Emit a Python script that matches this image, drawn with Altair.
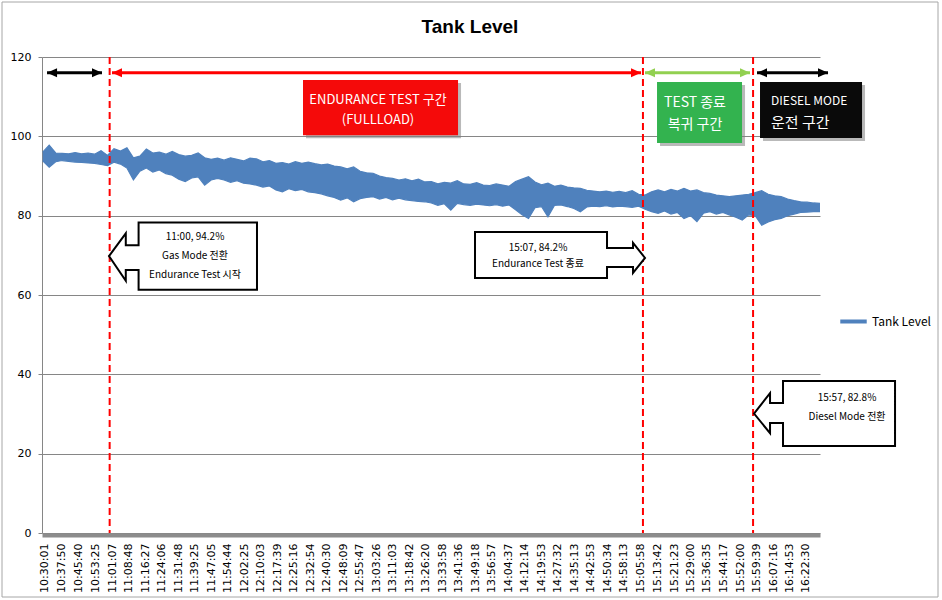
import altair as alt
import pandas as pd

DAY = "2013-01-01T"

# x-axis tick labels (category labels of the original sheet)
tick_labels = ["10:30:01", "10:37:50", "10:45:40", "10:53:25", "11:01:07", "11:08:48",
               "11:16:27", "11:24:06", "11:31:48", "11:39:25", "11:47:05", "11:54:44",
               "12:02:25", "12:10:03", "12:17:39", "12:25:16", "12:32:54", "12:40:30",
               "12:48:09", "12:55:47", "13:03:26", "13:11:03", "13:18:42", "13:26:20",
               "13:33:58", "13:41:36", "13:49:18", "13:56:57", "14:04:37", "14:12:14",
               "14:19:53", "14:27:32", "14:35:13", "14:42:53", "14:50:34", "14:58:13",
               "15:05:58", "15:13:42", "15:21:23", "15:29:00", "15:36:35", "15:44:17",
               "15:52:00", "15:59:39", "16:07:16", "16:14:53", "16:22:30"]
y_ticks = [0, 20, 40, 60, 80, 100, 120]
title_text = ["Tank Level"]

band_start = "10:29:00"
band_step = "3min"
level_high = [96.0, 97.8, 95.8, 95.7, 95.6, 95.9, 95.6, 95.8, 95.5, 96.4,
              95.2, 96.9, 96.3, 97.1, 94.6, 95.0, 96.8, 95.8, 96.0, 95.5,
              96.2, 95.4, 95.0, 95.2, 95.8, 94.6, 94.2, 94.5, 94.0, 94.6,
              94.2, 93.8, 94.5, 94.3, 93.6, 93.9, 93.2, 93.4, 93.0, 93.6,
              93.2, 93.5, 93.1, 92.8, 93.0, 92.5, 92.3, 91.8, 92.3, 91.2,
              90.8, 90.7, 90.0, 89.6, 89.4, 89.0, 89.3, 88.8, 89.2, 88.5,
              88.6, 88.0, 88.4, 88.2, 88.8, 88.0, 87.9, 88.3, 87.7, 87.6,
              88.0, 87.7, 87.4, 88.6, 89.2, 89.8, 88.5, 87.8, 88.2, 87.4,
              87.7, 87.2, 87.0, 86.9, 86.4, 86.2, 86.0, 86.2, 85.9, 86.1,
              85.8, 86.3, 85.4, 85.2, 86.0, 86.5, 86.0, 86.6, 86.2, 86.9,
              86.2, 86.5, 85.8, 85.6, 85.2, 85.0, 84.8, 85.0, 85.2, 85.4,
              85.8, 86.3, 85.4, 85.0, 84.8, 84.2, 83.8, 83.5, 83.4, 83.2,
              83.1]
level_low = [93.8, 92.2, 93.6, 93.9, 93.7, 93.5, 93.4, 93.3, 93.2, 92.9,
             92.6, 93.5, 93.0, 92.0, 89.0, 91.2, 92.0, 91.0, 91.5, 90.6,
             90.2, 89.2, 88.6, 89.5, 89.8, 87.7, 89.0, 89.4, 89.0, 88.4,
             88.8, 88.2, 88.0, 87.7, 87.2, 87.5, 86.5, 86.0, 86.8, 86.3,
             86.6, 86.0, 85.8, 85.5, 85.0, 84.6, 83.9, 84.5, 83.5, 84.3,
             84.6, 84.8, 84.2, 84.6, 84.0, 84.4, 84.0, 83.8, 83.6, 83.5,
             83.2, 82.6, 83.0, 81.4, 83.1, 82.8, 82.6, 82.9, 82.7, 82.5,
             82.8, 82.4, 82.7, 81.5, 80.2, 79.3, 82.0, 82.3, 79.7, 82.6,
             82.7, 82.3, 81.8, 81.0, 82.2, 82.4, 82.3, 82.5, 82.2, 82.4,
             82.3, 82.1, 82.4, 81.6, 81.0, 80.6, 81.2, 80.4, 80.8, 79.3,
             80.0, 78.5, 80.6, 81.0, 80.4, 80.8, 80.2, 79.6, 78.9, 80.2,
             80.0, 77.6, 78.4, 79.0, 79.3, 80.0, 80.4, 80.8, 80.9, 81.0,
             81.0]

# red dashed separators
split_times = ["11:00:00", "15:07:00", "15:58:00"]

# double arrows at top
arrow_start = ["10:31:00", "11:01:05", "15:07:57", "15:59:50"]
arrow_end = ["10:56:27", "15:06:06", "15:56:35", "16:32:43"]
arrow_color = ["#000000", "#FF0000", "#92D050", "#000000"]
arrow_level = [116.0, 116.0, 116.0, 116.0]

# coloured phase boxes
box_start = ["12:29:33", "15:13:31", "16:01:13"]
box_end = ["13:41:21", "15:52:53", "16:48:28"]
box_top = [114.2, 113.7, 113.7]
box_bottom = [100.3, 98.3, 99.6]
box_fill = ["#F50A0A", "#33B34F", "#0A0A0A"]

box_text = ["ENDURANCE TEST 구간", "(FULLLOAD)", "TEST 종료", "복귀 구간"]
box_text_time = ["13:04:17", "13:04:17", "15:31:07", "15:31:07"]
box_text_level = [109.2, 104.1, 108.4, 102.9]

diesel_text = ["DIESEL MODE", "운전 구간"]
diesel_time = ["16:06:20", "16:06:20"]
diesel_level = [108.9, 103.4]

# callouts
callout_time = ["11:33:58", "14:28:35", "16:31:06"]
callout_level = [69.8, 70.1, 30.1]
note_text = ["11:00, 94.2%", "Gas Mode 전환", "Endurance Test 시작",
             "15:07, 84.2%", "Endurance Test 종료",
             "15:57, 82.8%", "Diesel Mode 전환"]
note_time = ["11:39:32", "11:39:32", "11:39:32", "14:18:24", "14:18:24", "16:41:31", "16:41:31"]
note_level = [74.6, 69.8, 65.0, 71.8, 67.8, 34.0, 29.2]


def ts(hms):
    return DAY + hms


def dt(hms):
    h, m, s = (int(p) for p in hms.split(":"))
    return alt.DateTime(year=2013, month=1, date=1, hours=h, minutes=m, seconds=s)


band_times = pd.date_range(DAY + band_start, periods=len(level_high), freq=band_step)
band = pd.DataFrame({
    "t": band_times.strftime("%Y-%m-%dT%H:%M:%S"),
    "hi": level_high,
    "lo": level_low,
    "series": "Tank Level",
})

xscale = alt.Scale(domain=[dt("10:28:40"), dt("16:29:00")])
yscale = alt.Scale(domain=[0, 120], nice=False, zero=True)

BLUE = "#4F81BD"
AXFONT = "DejaVu Sans"
KFONT = "Noto Sans CJK KR"

x_axis = alt.Axis(values=[dt(v) for v in tick_labels], format="%H:%M:%S", title=None,
                  labelAngle=270, labelAlign="right", labelBaseline="middle",
                  labelFont=AXFONT, labelFontSize=11, labelColor="#000000",
                  labelPadding=8, labelOverlap=False, grid=False, tickSize=0,
                  domainColor="#8C8C8C", domainWidth=4, offset=2, labelFlush=False,
                  labelSeparation=0)
y_axis = alt.Axis(values=y_ticks, title=None, labelFont=AXFONT, labelFontSize=11,
                  labelColor="#000000", labelPadding=7, tickSize=4, tickColor="#868686",
                  domainColor="#868686", gridColor="#868686", grid=True)


def X(field):
    return alt.X(field, scale=xscale, axis=x_axis)


def Y(field):
    return alt.Y(field, scale=yscale, axis=y_axis)


base_band = alt.Chart(band)

area = base_band.mark_area(color=BLUE, opacity=1, interpolate="linear").encode(
    x=X("t:T"), y=Y("lo:Q"), y2="hi:Q",
)
legend = alt.Legend(title=None, orient="none", legendX=796, legendY=249,
                    symbolType="stroke", symbolStrokeWidth=4, symbolSize=700,
                    labelFont=KFONT, labelFontSize=12, labelColor="#000000",
                    labelOffset=3, padding=0)
edge_hi = base_band.mark_line(strokeWidth=1.2).encode(
    x=X("t:T"), y=Y("hi:Q"),
    color=alt.Color("series:N", scale=alt.Scale(range=[BLUE]), legend=legend),
)
edge_lo = base_band.mark_line(strokeWidth=1.2).encode(
    x=X("t:T"), y=Y("lo:Q"),
    color=alt.Color("series:N", scale=alt.Scale(range=[BLUE]), legend=legend),
)

splits = alt.Chart(pd.DataFrame({"t": [ts(v) for v in split_times]})).mark_rule(
    color="#FF0000", strokeWidth=2, strokeDash=[7, 4]
).encode(x=X("t:T"))

arrows_df = pd.DataFrame({
    "s": [ts(v) for v in arrow_start],
    "e": [ts(v) for v in arrow_end],
    "c": arrow_color,
    "v": arrow_level,
})
arrow_lines = alt.Chart(arrows_df).mark_rule(strokeWidth=3).encode(
    x=X("s:T"), x2="e:T", y=Y("v:Q"),
    color=alt.Color("c:N", scale=None),
)
head_left = alt.Chart(arrows_df).mark_point(
    shape="M0,0 L2,-0.9 L2,0.9 Z", size=100, filled=True, opacity=1
).encode(x=X("s:T"), y=Y("v:Q"), color=alt.Color("c:N", scale=None))
head_right = alt.Chart(arrows_df).mark_point(
    shape="M0,0 L-2,-0.9 L-2,0.9 Z", size=100, filled=True, opacity=1
).encode(x=X("e:T"), y=Y("v:Q"), color=alt.Color("c:N", scale=None))

boxes_df = pd.DataFrame({
    "s": [ts(v) for v in box_start],
    "e": [ts(v) for v in box_end],
    "top": box_top,
    "bot": box_bottom,
    "fill": box_fill,
})
box_shadow = alt.Chart(boxes_df).mark_rect(
    color="#7F7F7F", opacity=0.55, xOffset=3, x2Offset=3, yOffset=3, y2Offset=3
).encode(x=X("s:T"), x2="e:T", y=Y("top:Q"), y2="bot:Q")
boxes = alt.Chart(boxes_df).mark_rect(opacity=1).encode(
    x=X("s:T"), x2="e:T", y=Y("top:Q"), y2="bot:Q",
    color=alt.Color("fill:N", scale=None),
)

box_text_df = pd.DataFrame({"t": [ts(v) for v in box_text_time], "v": box_text_level,
                            "txt": box_text})
box_labels_red = alt.Chart(box_text_df.iloc[:2]).mark_text(
    font=KFONT, fontSize=13, color="white", align="center", baseline="middle"
).encode(x=X("t:T"), y=Y("v:Q"), text="txt:N")
box_labels_green = alt.Chart(box_text_df.iloc[2:]).mark_text(
    font=KFONT, fontSize=14, color="white", align="center", baseline="middle"
).encode(x=X("t:T"), y=Y("v:Q"), text="txt:N")
diesel_df = pd.DataFrame({"t": [ts(v) for v in diesel_time], "v": diesel_level,
                          "txt": diesel_text})
diesel_top = alt.Chart(diesel_df.iloc[:1]).mark_text(
    font=KFONT, fontSize=12, color="white", align="left", baseline="middle"
).encode(x=X("t:T"), y=Y("v:Q"), text="txt:N")
diesel_bot = alt.Chart(diesel_df.iloc[1:]).mark_text(
    font=KFONT, fontSize=15, color="white", align="left", baseline="middle"
).encode(x=X("t:T"), y=Y("v:Q"), text="txt:N")

CALLOUT_LEFT_A = ("M-1,0 L-0.773,-0.307 L-0.773,-0.147 L-0.6,-0.147 L-0.6,-0.453 "
                  "L1,-0.453 L1,0.453 L-0.6,0.453 L-0.6,0.187 L-0.773,0.187 L-0.773,0.333 Z")
CALLOUT_RIGHT = ("M-1,-0.271 L0.553,-0.271 L0.553,-0.082 L0.859,-0.082 L0.859,-0.141 "
                 "L1,0.035 L0.859,0.212 L0.859,0.141 L0.553,0.141 L0.553,0.271 L-1,0.271 Z")
CALLOUT_LEFT_B = ("M-1,0 L-0.773,-0.291 L-0.773,-0.149 L-0.589,-0.149 L-0.589,-0.461 "
                  "L1,-0.461 L1,0.461 L-0.589,0.461 L-0.589,0.135 L-0.773,0.135 L-0.773,0.277 Z")


def callout(i, path, size):
    df = pd.DataFrame({"t": [ts(callout_time[i])], "v": [callout_level[i]]})
    return alt.Chart(df).mark_point(
        shape=path, size=size, filled=True, fill="white", stroke="black",
        strokeWidth=2, opacity=1, fillOpacity=1, strokeOpacity=1
    ).encode(x=X("t:T"), y=Y("v:Q"))


callouts = [callout(0, CALLOUT_LEFT_A, 148 ** 2),
            callout(1, CALLOUT_RIGHT, 170 ** 2),
            callout(2, CALLOUT_LEFT_B, 141 ** 2)]

notes_df = pd.DataFrame({"t": [ts(v) for v in note_time], "v": note_level, "txt": note_text})
notes = alt.Chart(notes_df).mark_text(
    font=KFONT, fontSize=10, color="#000000", align="center", baseline="middle"
).encode(x=X("t:T"), y=Y("v:Q"), text="txt:N")

frame = alt.Chart(pd.DataFrame({"k": [0]})).mark_rect(
    fillOpacity=0, stroke="#A6A6A6", strokeWidth=1
).encode(x=alt.value(-40), x2=alt.value(896), y=alt.value(-55), y2=alt.value(540))

title = alt.Chart(pd.DataFrame({"txt": title_text})).mark_text(
    font="Liberation Sans", fontSize=19, fontWeight="bold", color="#000000",
    align="center", baseline="alphabetic"
).encode(x=alt.value(428), y=alt.value(-24), text="txt:N")

chart = alt.layer(
    frame, area, edge_hi, edge_lo, splits, arrow_lines, head_left, head_right,
    box_shadow, boxes, box_labels_red, box_labels_green, diesel_top, diesel_bot,
    *callouts, notes, title,
).properties(
    width=778, height=476,
    autosize=alt.AutoSizeParams(type="none"),
    padding={"left": 42, "top": 57, "right": 122, "bottom": 67},
    background="white",
).configure_view(stroke=None).configure_axisX(labelOverlap=False)

chart.save("out.html", embed_options={"renderer": "svg", "actions": False})
